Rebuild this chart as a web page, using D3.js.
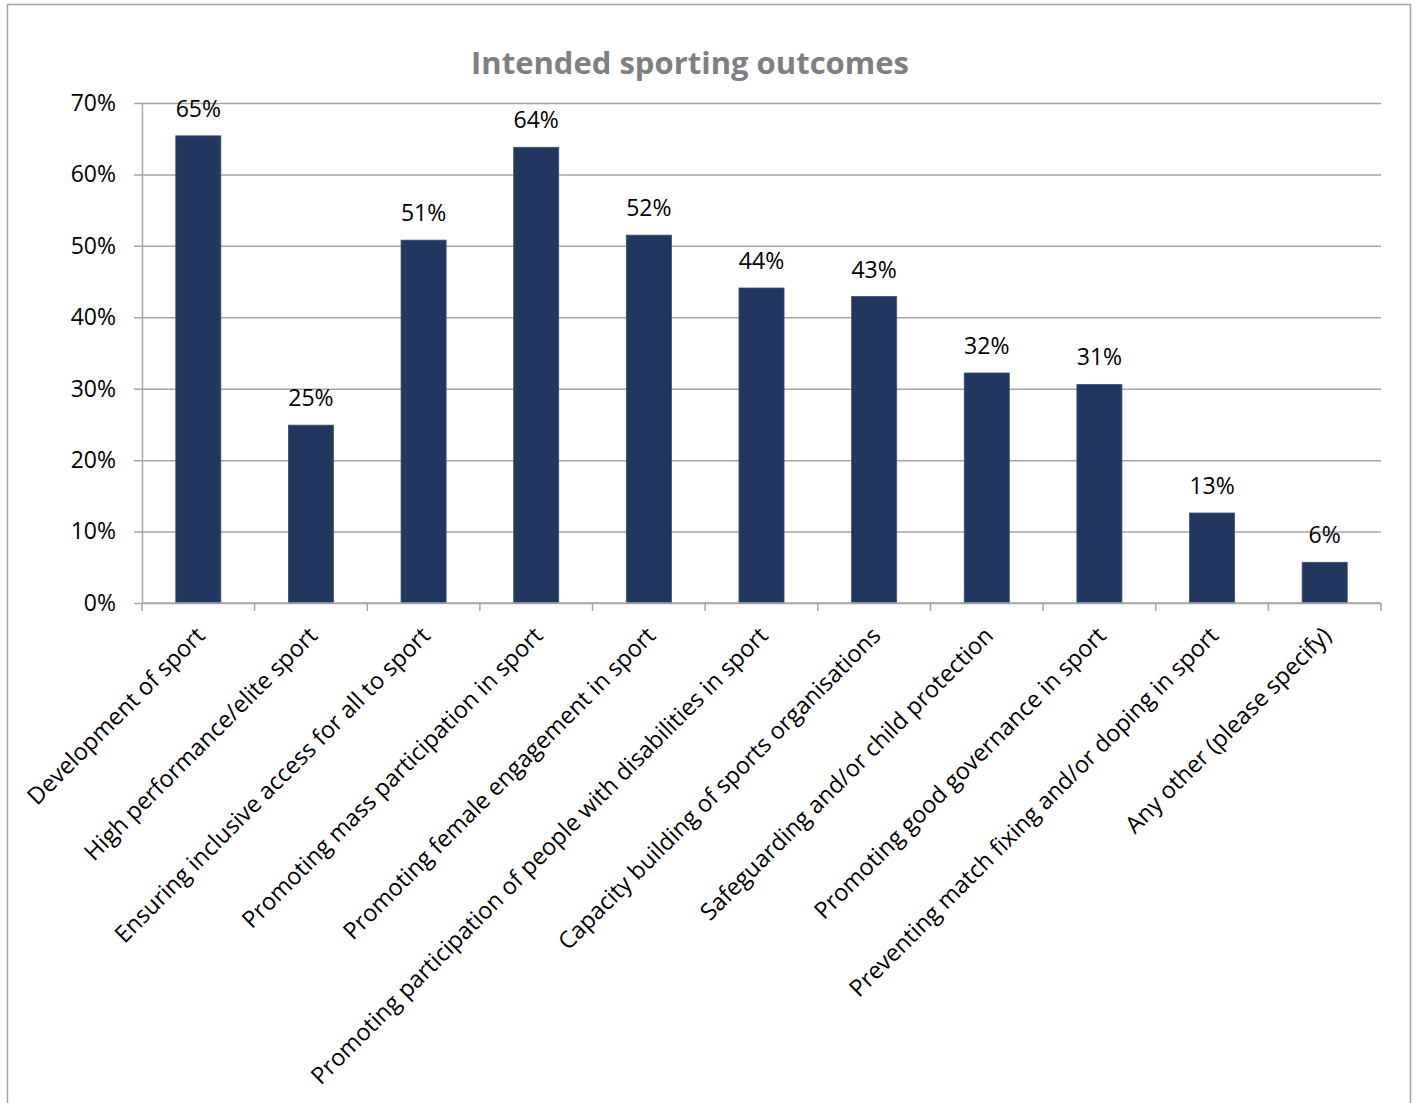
<!DOCTYPE html>
<html>
<head>
<meta charset="utf-8">
<script src="https://cdn.jsdelivr.net/npm/d3@7"></script>
<style>
  html, body { margin: 0; padding: 0; background: #fff; }
  svg { display: block; }
  text { font-family: "Open Sans", "Noto Sans", sans-serif; fill: #000; }
</style>
</head>
<body>
<svg id="chart" width="1415" height="1103"></svg>
<script>
// Share of respondents naming each intended sporting outcome
const categories = [
  "Development of sport",
  "High performance/elite sport",
  "Ensuring inclusive access for all to sport",
  "Promoting mass participation in sport",
  "Promoting female engagement in sport",
  "Promoting participation of people with disabilities in sport",
  "Capacity building of sports organisations",
  "Safeguarding and/or child protection",
  "Promoting good governance in sport",
  "Preventing match fixing and/or doping in sport",
  "Any other (please specify)"
];
const values = [0.654, 0.249, 0.508, 0.638, 0.515, 0.441, 0.429, 0.322, 0.306, 0.126, 0.057];
const yTicks = [0, 0.1, 0.2, 0.3, 0.4, 0.5, 0.6, 0.7];
const title = "Intended sporting outcomes";

const svg = d3.select("#chart");
const plot = { left: 142, right: 1381, top: 103, bottom: 603 };
const pct = d3.format(".0%");

// outer chart frame
svg.append("rect")
  .attr("x", 7.5).attr("y", 4.5)
  .attr("width", 1403).attr("height", 1110)
  .attr("fill", "none").attr("stroke", "#a6a6a6").attr("stroke-width", 1.5);

svg.append("text")
  .attr("x", 690).attr("y", 74)
  .attr("text-anchor", "middle")
  .attr("font-size", 31).attr("font-weight", "bold")
  .style("fill", "#7f7f7f")
  .text(title);

const x = d3.scaleBand()
  .domain(categories)
  .range([plot.left, plot.right])
  .paddingInner(0.6).paddingOuter(0.3);

const y = d3.scaleLinear().domain([0, 0.7]).range([plot.bottom, plot.top]);

// horizontal gridlines, extending a little left of the axis as ticks
const gy = svg.append("g")
  .attr("transform", `translate(${plot.right},0)`)
  .call(d3.axisLeft(y).tickValues(yTicks).tickSize(plot.right - plot.left + 8).tickFormat(""));
gy.select(".domain").remove();
gy.selectAll(".tick line").attr("stroke", "#a6a6a6").attr("stroke-width", 1.5);

// y axis line and percentage labels
const gyl = svg.append("g")
  .attr("transform", `translate(${plot.left},0)`)
  .call(d3.axisLeft(y).tickValues(yTicks).tickFormat(pct).tickSize(0).tickPadding(26));
gyl.select(".domain").attr("stroke", "#a6a6a6").attr("stroke-width", 1.5);
gyl.selectAll(".tick text")
  .attr("font-size", 23)
  .style("font-family", '"Open Sans", sans-serif')
  .attr("fill", "#000");

// bars
svg.append("g").selectAll("rect")
  .data(values)
  .join("rect")
  .attr("x", (d, i) => x(categories[i]))
  .attr("y", d => y(d))
  .attr("width", x.bandwidth())
  .attr("height", d => y(0) - y(d))
  .attr("fill", "#22375f")
  .attr("stroke", "#3a4f78").attr("stroke-width", 0.8);

// value labels
svg.append("g").selectAll("text")
  .data(values)
  .join("text")
  .attr("x", (d, i) => x(categories[i]) + x.bandwidth() / 2)
  .attr("y", d => y(d) - 19)
  .attr("text-anchor", "middle")
  .attr("font-size", 23)
  .text(d => pct(d));

// x axis line and category boundary ticks
const step = x.step();
const gx = svg.append("g");
gx.append("line")
  .attr("x1", plot.left).attr("x2", plot.right)
  .attr("y1", plot.bottom).attr("y2", plot.bottom)
  .attr("stroke", "#a6a6a6").attr("stroke-width", 1.5);
gx.selectAll("line.tk")
  .data(d3.range(categories.length + 1))
  .join("line").attr("class", "tk")
  .attr("x1", i => plot.left + i * step).attr("x2", i => plot.left + i * step)
  .attr("y1", plot.bottom).attr("y2", plot.bottom + 8)
  .attr("stroke", "#a6a6a6").attr("stroke-width", 1.5);

// rotated category labels
gx.selectAll("text")
  .data(categories)
  .join("text")
  .attr("transform", d => `translate(${x(d) + x.bandwidth() / 2 + 8},${plot.bottom + 34}) rotate(-45)`)
  .attr("text-anchor", "end")
  .attr("font-size", 23.5)
  .text(d => d);
</script>
</body>
</html>
